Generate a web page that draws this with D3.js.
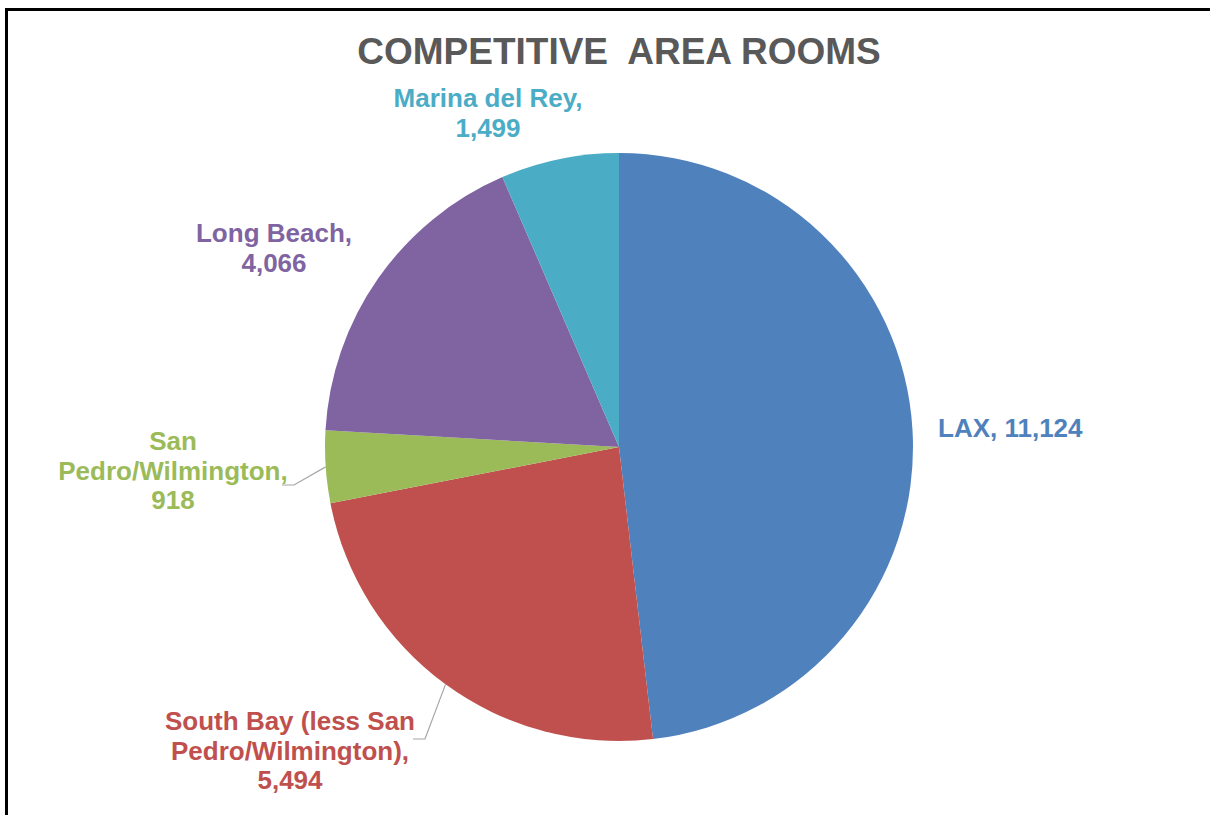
<!DOCTYPE html>
<html>
<head>
<meta charset="utf-8">
<script src="https://cdn.jsdelivr.net/npm/d3@7"></script>
<style>
  body { margin: 0; background: #fff; }
  svg { display: block; font-family: "Liberation Sans", Arial, sans-serif; }
</style>
</head>
<body>
<div id="chart"></div>
<script>
// data, clockwise from 12 o'clock
var areas = ["LAX", "South Bay (less San Pedro/Wilmington)", "San Pedro/Wilmington", "Long Beach", "Marina del Rey"];
var rooms = [11124, 5494, 918, 4066, 1499];
var colors = ["#4f81bd", "#c0504d", "#9bbb59", "#8064a2", "#4bacc6"];

// how the data labels are broken into lines
var labelLines = [
  ["LAX, 11,124"],
  ["South Bay (less San", "Pedro/Wilmington),", "5,494"],
  ["San", "Pedro/Wilmington,", "918"],
  ["Long Beach,", "4,066"],
  ["Marina del Rey,", "1,499"]
];

// label placement (x, first baseline, anchor, leader elbow)
var labelPos = [
  { x: 938, y: 437, anchor: "start", leader: null },
  { x: 290, y: 730, anchor: "middle", leader: [[413, 739], [425, 739]] },
  { x: 173, y: 450, anchor: "middle", leader: [[282, 485], [294, 485]] },
  { x: 274, y: 242, anchor: "middle", leader: null },
  { x: 488, y: 107, anchor: "middle", leader: null }
];

var W = 1210, H = 815;
var cx = 619, cy = 447, radius = 294;
var lineH = 29.5;

var svg = d3.select("#chart").append("svg")
  .attr("width", W)
  .attr("height", H);

svg.append("rect")
  .attr("x", 0).attr("y", 0)
  .attr("width", W).attr("height", H)
  .attr("fill", "#fff");

// frame (right and bottom edges fall outside the picture)
svg.append("rect")
  .attr("x", 6.5).attr("y", 9.5)
  .attr("width", W + 20).attr("height", H + 20)
  .attr("fill", "none")
  .attr("stroke", "#000")
  .attr("stroke-width", 3);

svg.append("text")
  .attr("x", cx)
  .attr("y", 64)
  .attr("text-anchor", "middle")
  .attr("fill", "#595959")
  .attr("font-size", "37px")
  .attr("font-weight", "bold")
  .style("white-space", "pre")
  .text("COMPETITIVE  AREA ROOMS");

var pie = d3.pie().sort(null).value(function(d) { return d; });
var arcs = pie(rooms);

var arc = d3.arc().innerRadius(0).outerRadius(radius);
var edge = d3.arc().innerRadius(radius).outerRadius(radius);

var g = svg.append("g")
  .attr("transform", "translate(" + cx + "," + cy + ")");

g.selectAll("path.slice")
  .data(arcs)
  .enter()
  .append("path")
  .attr("class", "slice")
  .attr("d", arc)
  .attr("fill", function(d, i) { return colors[i]; });

// leader lines
arcs.forEach(function(d, i) {
  var p = labelPos[i];
  if (!p.leader) return;
  var e = edge.centroid(d);
  var pts = p.leader.map(function(q) { return [q[0], q[1]]; });
  pts.push([cx + e[0], cy + e[1]]);
  svg.append("path")
    .attr("d", d3.line()(pts))
    .attr("fill", "none")
    .attr("stroke", "#a6a6a6")
    .attr("stroke-width", 1.2);
});

// labels
labelLines.forEach(function(lines, i) {
  var p = labelPos[i];
  var t = svg.append("text")
    .attr("text-anchor", p.anchor)
    .attr("fill", colors[i])
    .attr("font-size", "26px")
    .attr("font-weight", "bold");
  lines.forEach(function(s, j) {
    t.append("tspan")
      .attr("x", p.x)
      .attr("y", p.y + j * lineH)
      .text(s);
  });
});
</script>
</body>
</html>
